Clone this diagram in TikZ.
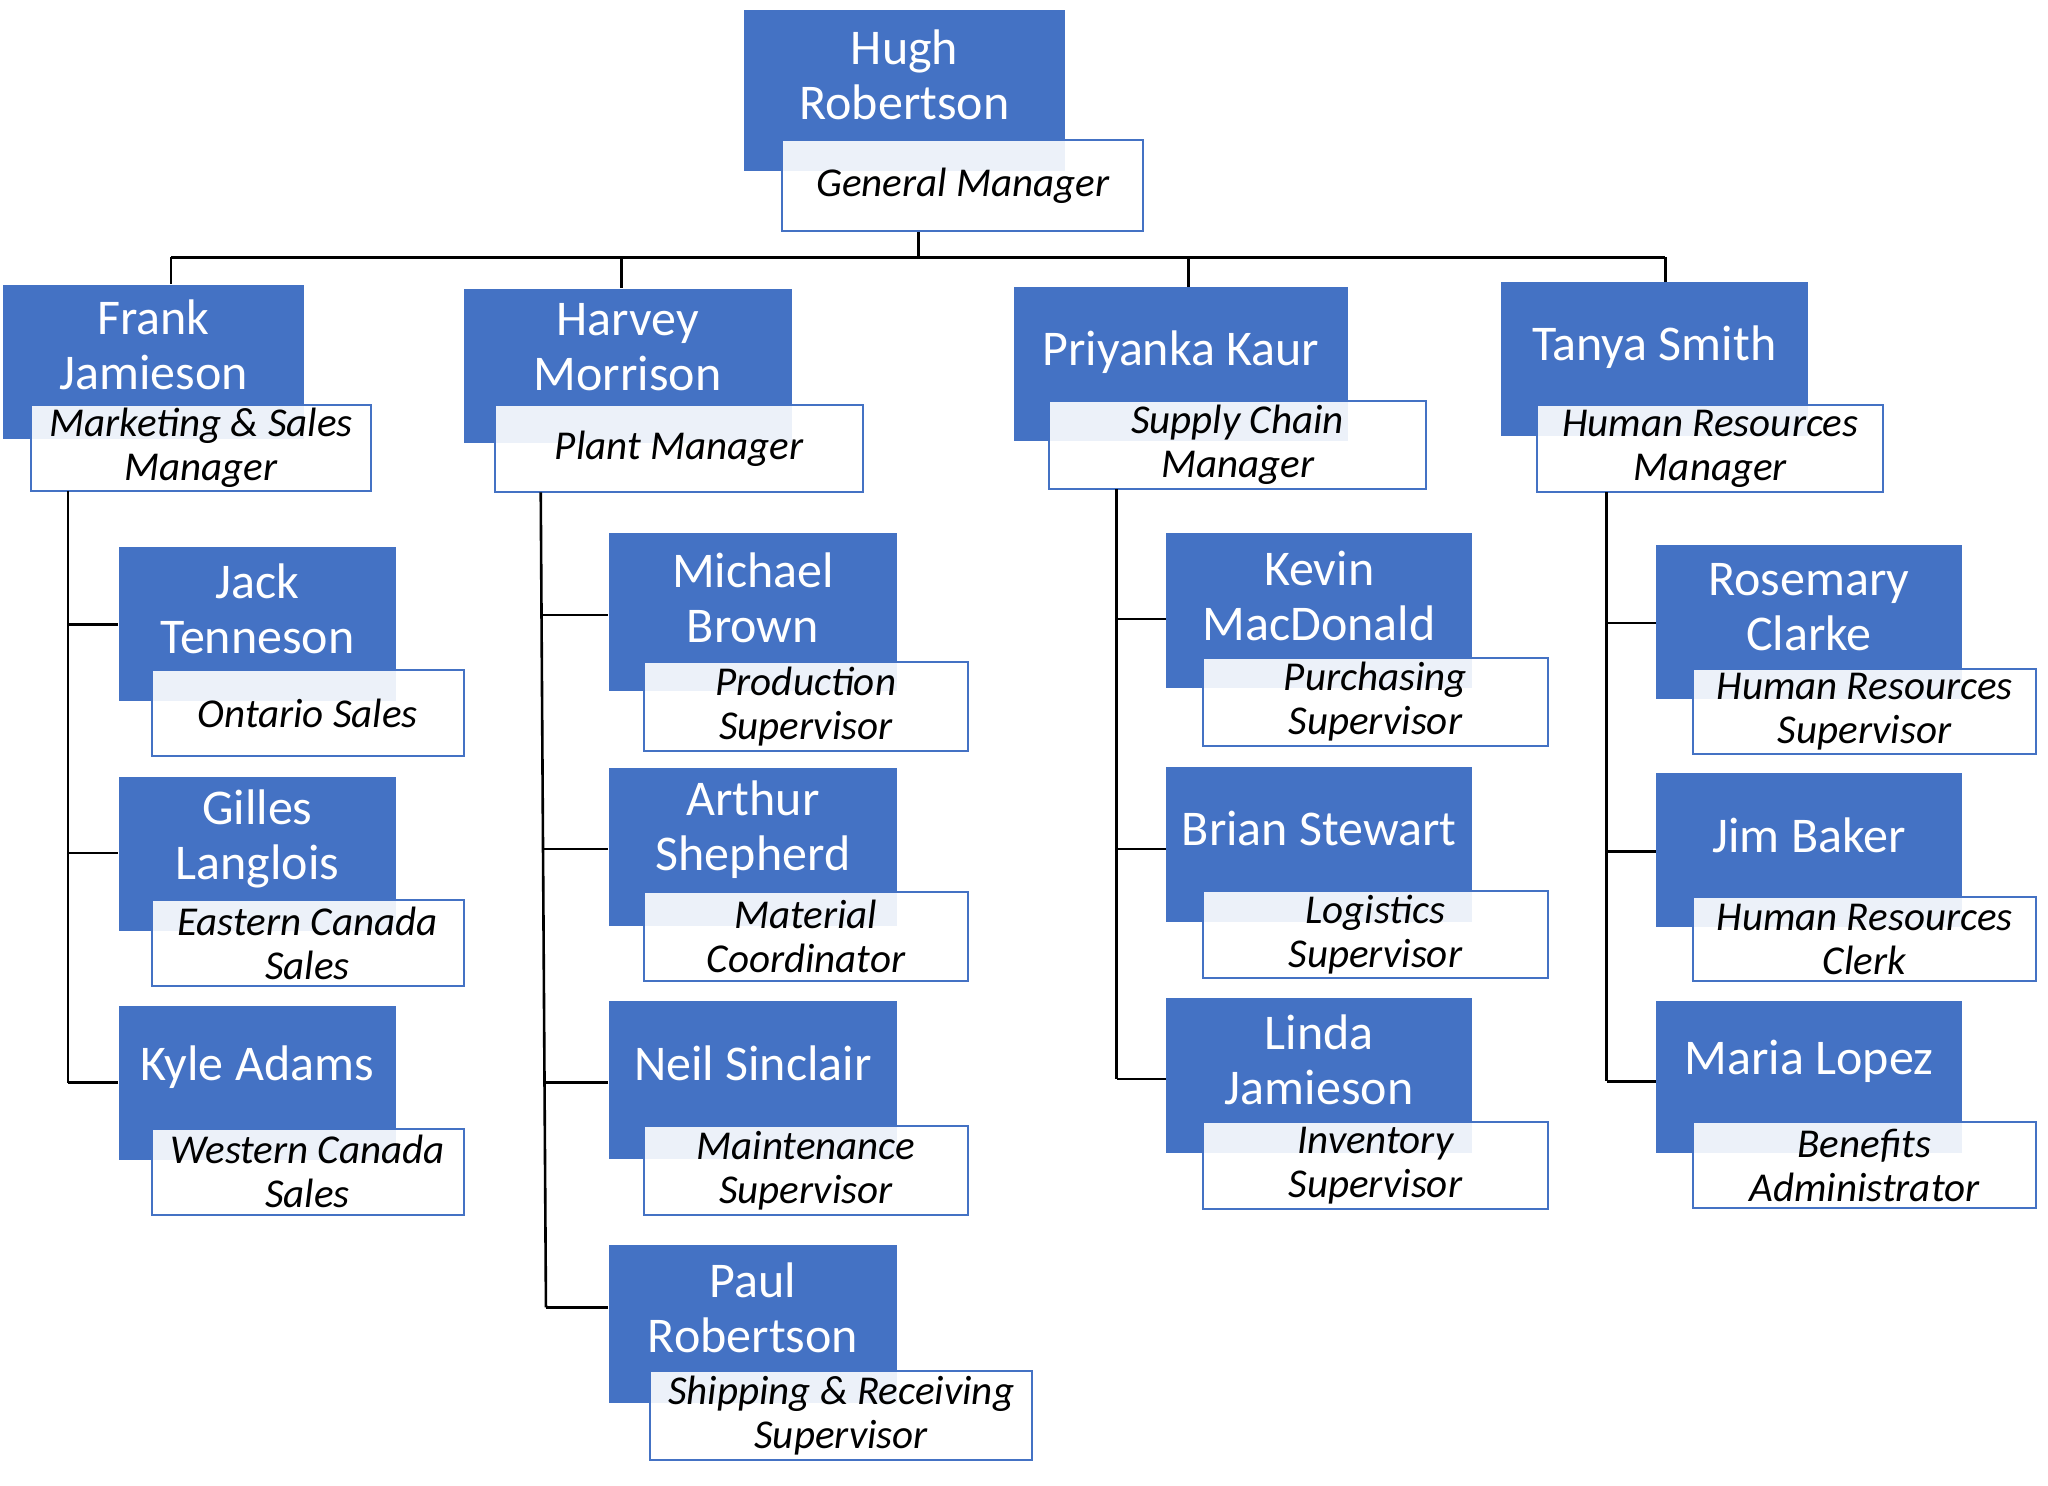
\documentclass[tikz,border=0pt]{standalone}
\usepackage{fontspec}
\setmainfont{Carlito}
\usetikzlibrary{fit}
\definecolor{obl}{HTML}{4472C4}
\tikzset{
  bluebox/.style={fill=obl, draw=none, inner sep=0pt},
  titlebox/.style={fill=white, fill opacity=0.9, draw=obl, line width=1pt, inner sep=0pt},
  nametext/.style={text=white, font=\fontsize{25}{27.5}\selectfont, align=center, inner sep=0pt},
  titletext/.style={text=black, font=\fontsize{20.5}{22}\selectfont\itshape, align=center, inner sep=0pt},
  conn/.style={draw=black, line width=1.3pt},
}
\newcommand\blu[7]{%
  \node[bluebox, fit={(#2,#3) (#4,#5)}] (#1) {};
  \node[nametext] (#1-n) at ({(#2+#4)/2},{(#3+#6)/2}) {#7};
}
\newcommand\ttl[6]{%
  \node[titlebox, fit={(#2,#3) (#4,#5)}] (#1) {};
  \node[titletext] (#1-x) at (#1.center) {#6};
}
\begin{document}
\begin{tikzpicture}[x=0.653pt, y=-0.653pt]
\useasboundingbox (0,0) rectangle (1568,1137);
% connectors
\coordinate (bl) at (131,197);
\coordinate (br) at (1275,197);
\coordinate (bc) at (703,197);
\coordinate (bh) at (476,197);
\coordinate (bp) at (910,197);
% people
\blu{hugh}{570}{8}{815}{131}{107}{Hugh\\Robertson}
\ttl{hught}{599}{107}{875}{177}{General Manager}
\blu{frank}{2}{218}{233}{336}{310}{Frank\\Jamieson}
\ttl{frankt}{24}{310}{284}{376}{Marketing \& Sales\\Manager}
\blu{harvey}{355}{221}{606}{339}{310}{Harvey\\Morrison}
\ttl{harveyt}{379}{310}{661}{377}{Plant Manager}
\blu{priyanka}{776}{220}{1032}{338}{319}{Priyanka Kaur}
\ttl{priyankat}{803}{307}{1092}{374}{Supply Chain\\Manager}
\blu{tanya}{1149}{216}{1384}{334}{316}{Tanya Smith}
\ttl{tanyat}{1177}{310}{1442}{377}{Human Resources\\Manager}
\blu{jack}{91}{419}{303}{537}{513}{Jack\\Tenneson}
\ttl{jackt}{116}{513}{355}{579}{Ontario Sales}
\blu{gilles}{91}{595}{303}{713}{689}{Gilles\\Langlois}
\ttl{gillest}{116}{689}{355}{755}{Eastern Canada\\Sales}
\blu{kyle}{91}{770}{303}{888}{864}{Kyle Adams}
\ttl{kylet}{116}{864}{355}{930}{Western Canada\\Sales}
\blu{michael}{466}{408}{687}{529}{507}{Michael\\Brown}
\ttl{michaelt}{493}{507}{741}{575}{Production\\Supervisor}
\blu{arthur}{466}{588}{687}{709}{683}{Arthur\\Shepherd}
\ttl{arthurt}{493}{683}{741}{751}{Material\\Coordinator}
\blu{neil}{466}{766}{687}{887}{862}{Neil Sinclair}
\ttl{neilt}{493}{862}{741}{930}{Maintenance\\Supervisor}
\blu{paul}{466}{953}{687}{1074}{1050}{Paul\\Robertson}
\ttl{pault}{498}{1050}{790}{1118}{Shipping \& Receiving\\Supervisor}
\blu{kevin}{893}{408}{1127}{527}{504}{Kevin\\MacDonald}
\ttl{kevint}{921}{504}{1185}{571}{Purchasing\\Supervisor}
\blu{brian}{893}{587}{1127}{706}{682}{Brian Stewart}
\ttl{briant}{921}{682}{1185}{749}{Logistics\\Supervisor}
\blu{linda}{893}{764}{1127}{883}{859}{Linda\\Jamieson}
\ttl{lindat}{921}{859}{1185}{926}{Inventory\\Supervisor}
\blu{rosemary}{1268}{417}{1502}{535}{512}{Rosemary\\Clarke}
\ttl{rosemaryt}{1296}{512}{1559}{577}{Human Resources\\Supervisor}
\blu{jim}{1268}{592}{1502}{710}{687}{Jim Baker}
\ttl{jimt}{1296}{687}{1559}{751}{Human Resources\\Clerk}
\blu{maria}{1268}{766}{1502}{883}{859}{Maria Lopez}
\ttl{mariat}{1296}{859}{1559}{925}{Benefits\\Administrator}
% top bus
\draw[conn] (bc |- hught.south) -- (bc);
\draw[conn] (bl) -- (br);
\draw[conn] (bl) -- (bl |- frank.north);
\draw[conn] (bh) -- (bh |- harvey.north);
\draw[conn] (bp) -- (bp |- priyanka.north);
\draw[conn] (br) -- (br |- tanya.north);
% Frank column
\coordinate (f0) at (52,376);
\coordinate (f3) at (52,829);
\coordinate (f1) at (52,478);
\coordinate (f2) at (52,653);
\draw[conn] (f0) -- (f3);
\draw[conn] (f1) -- (f1 -| jack.west);
\draw[conn] (f2) -- (f2 -| gilles.west);
\draw[conn] (f3) -- (f3 -| kyle.west);
% Harvey column
\coordinate (h0) at (414,377);
\coordinate (h4) at (418,1001);
\coordinate (h1) at (415,471);
\coordinate (h2) at (415,650);
\coordinate (h3) at (416,829);
\draw[conn] (h0) -- (h4);
\draw[conn] (h1) -- (h1 -| michael.west);
\draw[conn] (h2) -- (h2 -| arthur.west);
\draw[conn] (h3) -- (h3 -| neil.west);
\draw[conn] (h4) -- (h4 -| paul.west);
% Priyanka column
\coordinate (p0) at (855,374);
\coordinate (p3) at (855,826);
\coordinate (p1) at (855,474);
\coordinate (p2) at (855,650);
\draw[conn] (p0) -- (p3);
\draw[conn] (p1) -- (p1 -| kevin.west);
\draw[conn] (p2) -- (p2 -| brian.west);
\draw[conn] (p3) -- (p3 -| linda.west);
% Tanya column
\coordinate (t0) at (1230,377);
\coordinate (t3) at (1230,828);
\coordinate (t1) at (1230,477);
\coordinate (t2) at (1230,652);
\draw[conn] (t0) -- (t3);
\draw[conn] (t1) -- (t1 -| rosemary.west);
\draw[conn] (t2) -- (t2 -| jim.west);
\draw[conn] (t3) -- (t3 -| maria.west);
\end{tikzpicture}
\end{document}
